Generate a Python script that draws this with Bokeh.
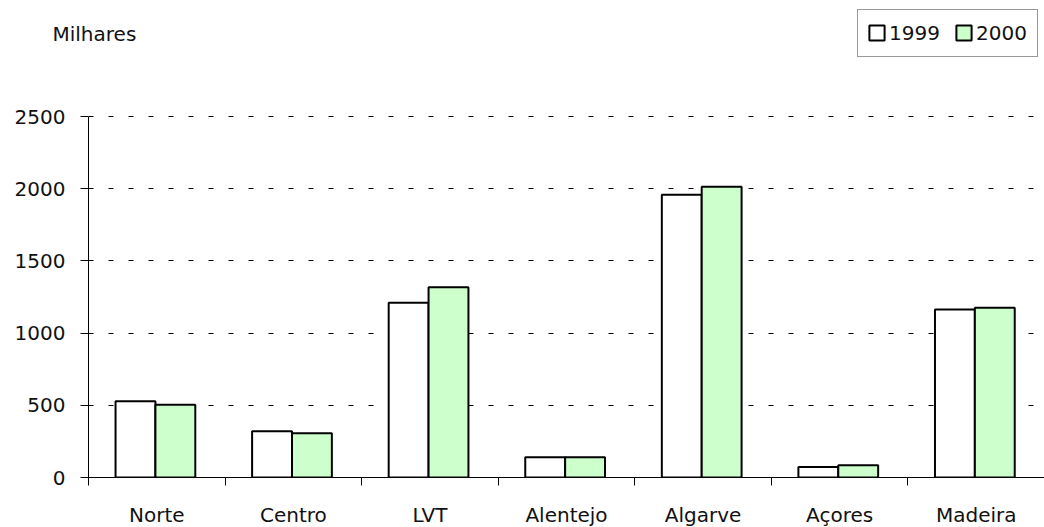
from bokeh.plotting import figure
from bokeh.layouts import column
from bokeh.models import (FixedTicker, Legend, LegendItem, Label, ColumnDataSource, Range1d)
from bokeh.embed import file_html
from bokeh.resources import INLINE

categories = ["Norte", "Centro", "LVT", "Alentejo", "Algarve", "Açores", "Madeira"]
values_1999 = [528, 321, 1210, 141, 1958, 72, 1163]
values_2000 = [503, 307, 1318, 140, 2013, 85, 1175]
y_ticks = [0, 500, 1000, 1500, 2000, 2500]
series_names = ["1999", "2000"]
series_colors = ["#FFFFFF", "#CCFFCC"]
unit_label = "Milhares"

FONT = "DejaVu Sans"
FS = "20px"
TXT = "#111111"

W = 1044
HEAD_H = 100            # header canvas height
FRAME_TOP = 115         # page px of frame top (1px above the 2500 line)
FRAME_BOTTOM = 477      # page px of value 0
PX_2500 = 361
Y_MAX = 2500
y_end = Y_MAX * (FRAME_BOTTOM - FRAME_TOP) / PX_2500

n = len(categories)
centers = [i + 0.5 for i in range(n)]
bar_w = 0.292

src = ColumnDataSource(dict(
    x1=[c - bar_w / 2 - 0.01 for c in centers],
    x2=[c + bar_w / 2 - 0.01 for c in centers],
    v1=values_1999,
    v2=values_2000,
))


def no_align(fig):
    if "frame_align" in fig.properties():
        fig.frame_align = False


# ---------- header: unit label + legend ----------
head = figure(width=W, height=HEAD_H, output_backend="svg", toolbar_location=None,
              x_range=Range1d(0, W), y_range=Range1d(0, HEAD_H),
              x_axis_type=None, y_axis_type=None, min_border=0)
no_align(head)
head.outline_line_color = None
head.xgrid.visible = False
head.ygrid.visible = False

h1 = head.vbar(x="x1", top="v1", width=bar_w, bottom=0, source=src, visible=False,
               fill_color=series_colors[0], line_color="black", line_width=2)
h2 = head.vbar(x="x2", top="v2", width=bar_w, bottom=0, source=src, visible=False,
               fill_color=series_colors[1], line_color="black", line_width=2)

legend = Legend(items=[LegendItem(label=series_names[0], renderers=[h1]),
                       LegendItem(label=series_names[1], renderers=[h2])],
                orientation="horizontal", location=(857, HEAD_H - 56.5),
                glyph_width=19, glyph_height=19, label_standoff=3,
                label_width=52, label_height=28, spacing=13, padding=9, margin=0,
                label_text_font=FONT, label_text_font_size=FS,
                label_text_color=TXT, click_policy="none",
                border_line_color="#333333", border_line_width=1,
                background_fill_color="white", background_fill_alpha=1)
head.add_layout(legend, "center")

head.add_layout(Label(x=52, y=HEAD_H - 33, text=unit_label,
                      text_font=FONT, text_font_size=FS, text_color=TXT,
                      text_baseline="alphabetic"))

# ---------- main chart ----------
top_border = FRAME_TOP - HEAD_H
bottom_border = 55
p = figure(width=W, height=top_border + (FRAME_BOTTOM - FRAME_TOP) + bottom_border,
           output_backend="svg", toolbar_location=None,
           x_range=Range1d(0, n), y_range=Range1d(0, y_end),
           min_border_left=88, min_border_right=0, min_border_top=top_border,
           min_border_bottom=bottom_border)
no_align(p)
p.outline_line_color = None

r1 = p.vbar(x="x1", top="v1", width=bar_w, bottom=0, source=src,
            fill_color=series_colors[0], line_color="black", line_width=2)
r2 = p.vbar(x="x2", top="v2", width=bar_w, bottom=0, source=src,
            fill_color=series_colors[1], line_color="black", line_width=2)

xa = p.xaxis[0]
xa.ticker = FixedTicker(ticks=centers, minor_ticks=list(range(n + 1)))
xa.major_label_overrides = {c: lab for c, lab in zip(centers, categories)}
xa.major_tick_line_color = None
xa.major_tick_in = 0
xa.major_tick_out = 8
xa.minor_tick_in = 0
xa.minor_tick_out = 8
xa.minor_tick_line_color = "black"
xa.axis_line_color = "black"
xa.major_label_standoff = 17
xa.major_label_text_font = FONT
xa.major_label_text_font_size = FS
xa.major_label_text_color = TXT

ya = p.yaxis[0]
ya.ticker = FixedTicker(ticks=y_ticks)
ya.bounds = (0, Y_MAX)
ya.major_tick_in = 0
ya.major_tick_out = 8
ya.minor_tick_line_color = None
ya.axis_line_color = "black"
ya.major_label_standoff = 15
ya.major_label_text_font = FONT
ya.major_label_text_font_size = FS
ya.major_label_text_color = TXT

p.xgrid.grid_line_color = None
p.ygrid.ticker = FixedTicker(ticks=y_ticks)
p.ygrid.grid_line_color = "black"
p.ygrid.grid_line_dash = "5 15"
p.ygrid.grid_line_width = 1

layout = column(head, p, spacing=0)
open("out.html", "w").write(file_html(layout, INLINE))
